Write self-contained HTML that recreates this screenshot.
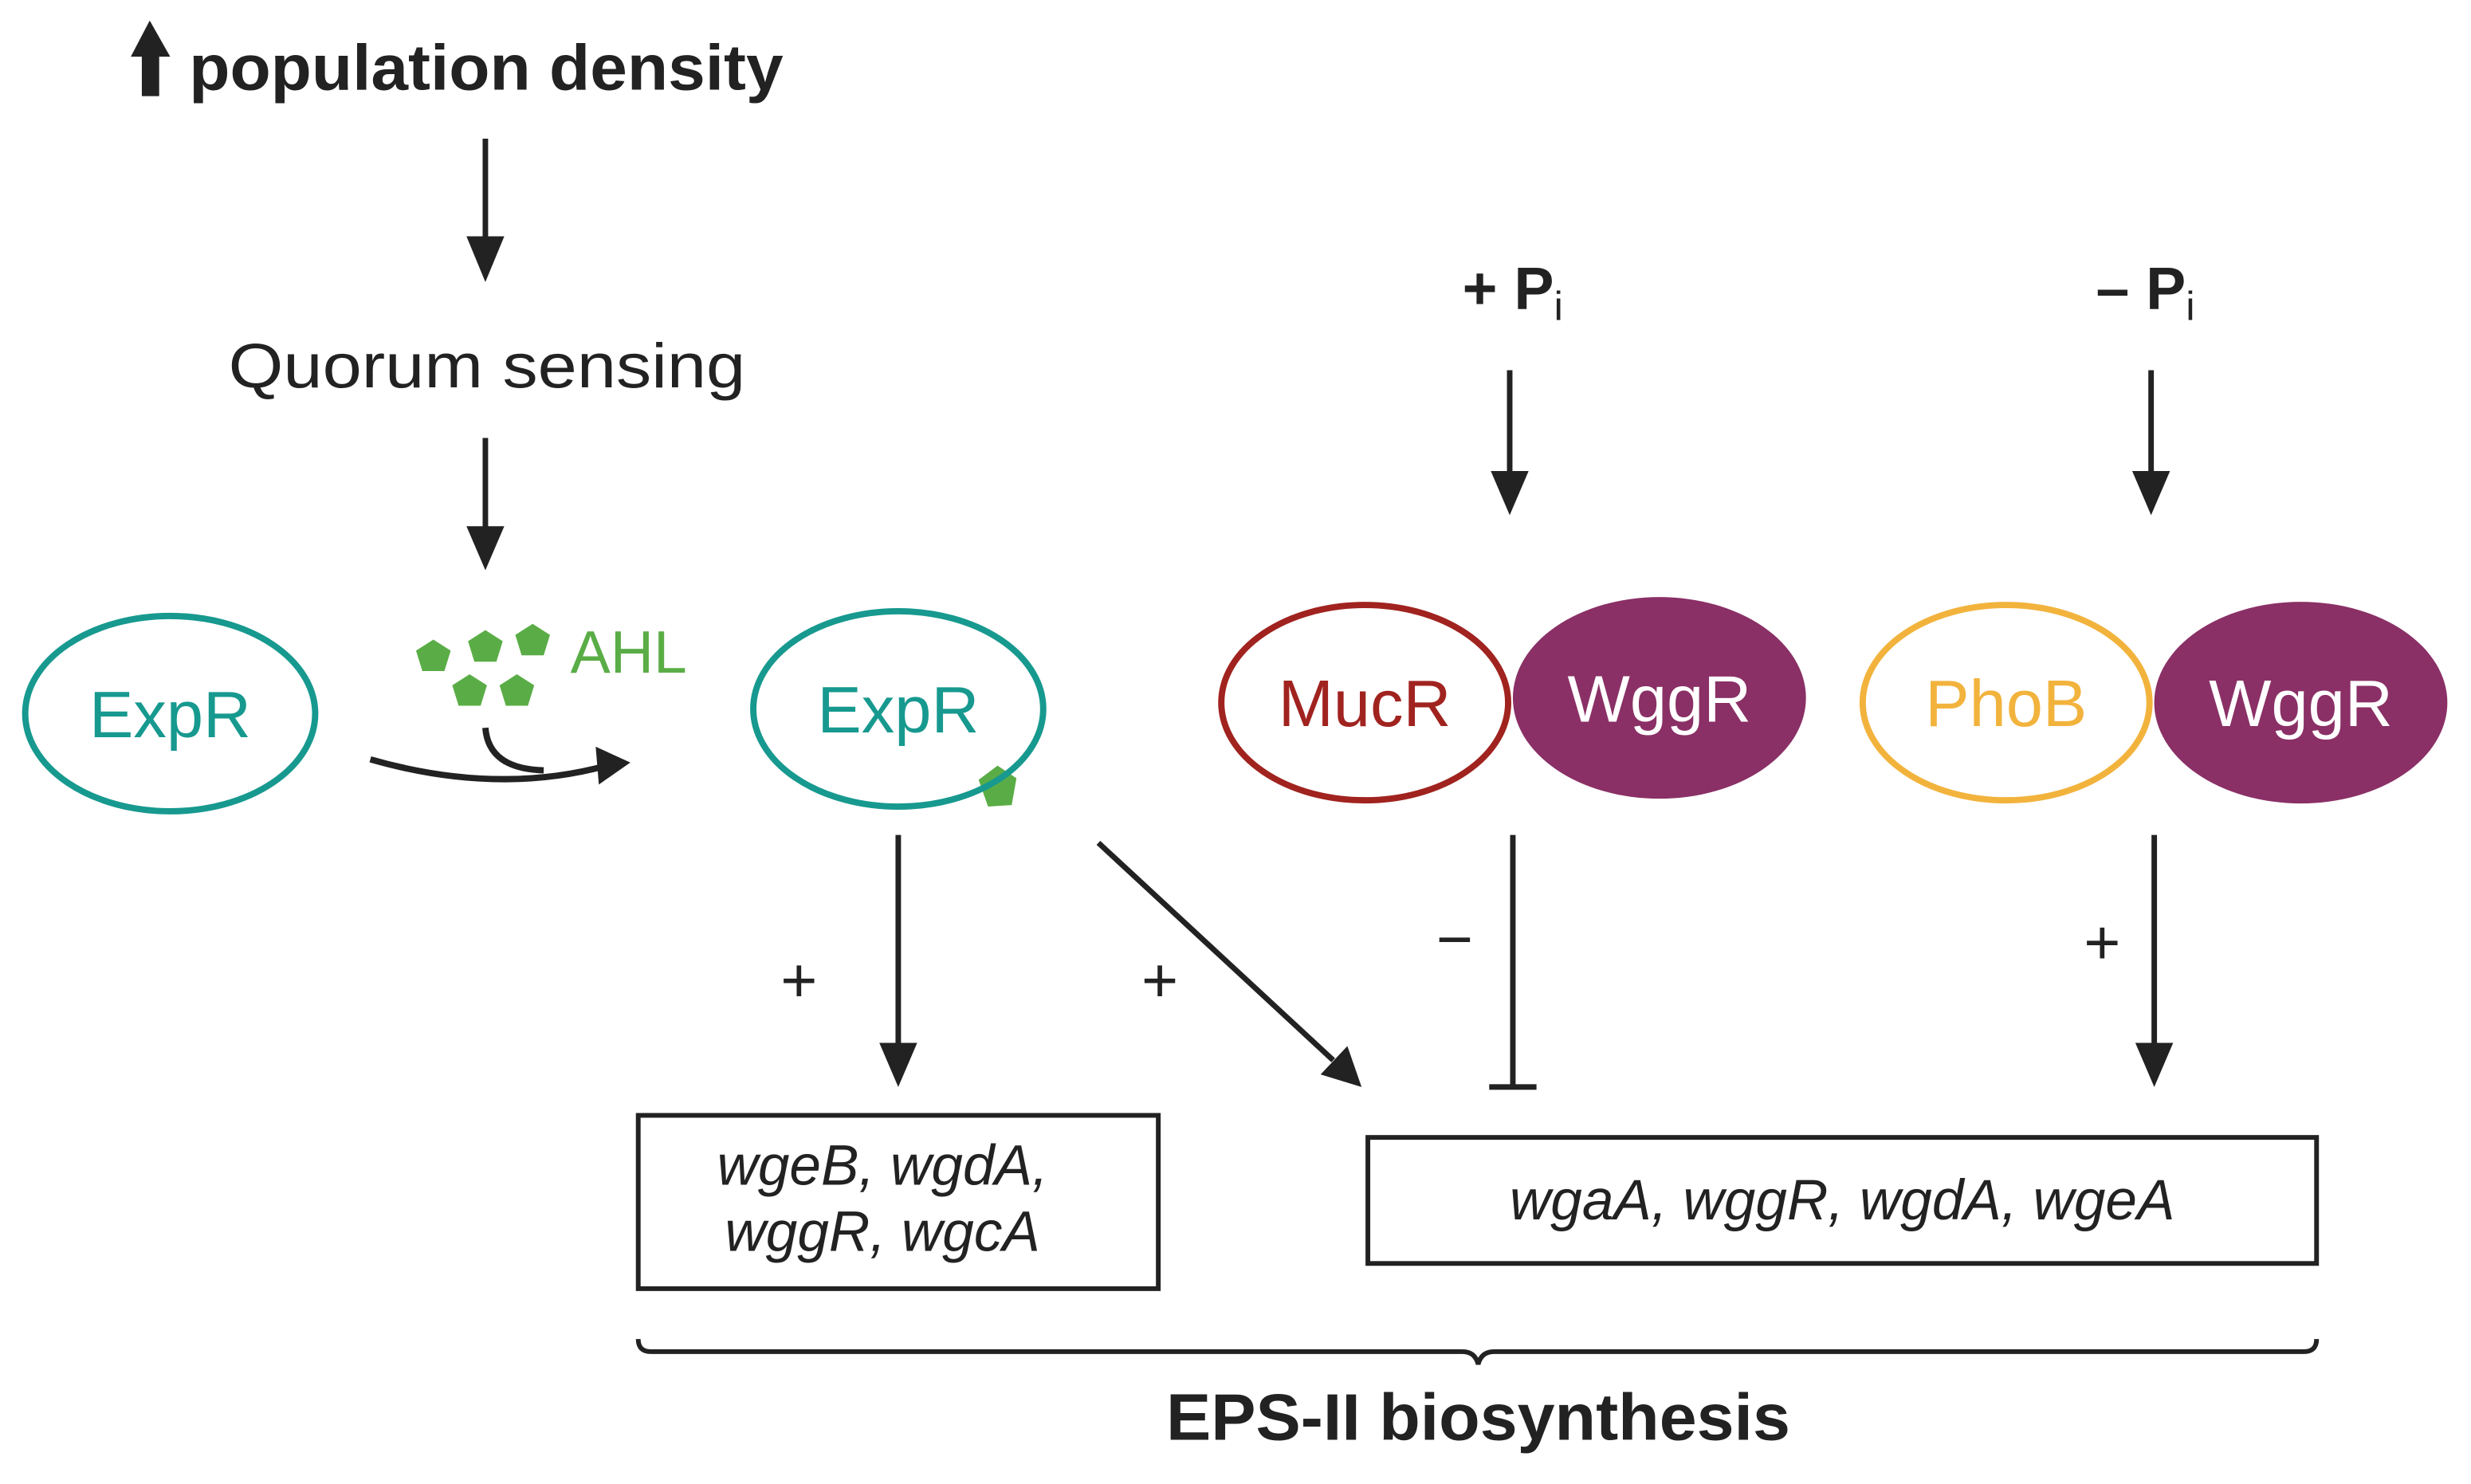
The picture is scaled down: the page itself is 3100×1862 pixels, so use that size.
<!DOCTYPE html>
<html><head><meta charset="utf-8"><style>
html,body{margin:0;padding:0;background:#fff;}
svg{display:block;}
text{font-family:"Liberation Sans",sans-serif;}
</style></head><body>
<svg width="3100" height="1862" viewBox="0 0 1568 942" preserveAspectRatio="none" xmlns="http://www.w3.org/2000/svg">
<g fill="#222" stroke="#222">
<polygon points="95,13 83,36 90,36 90,61 101,61 101,36 108,36" stroke="none"/>
</g>
<text x="120" y="57" font-size="41" font-weight="bold" fill="#222" textLength="377" lengthAdjust="spacingAndGlyphs">population density</text>
<g stroke="#222" stroke-width="3.5" fill="none">
<line x1="308" y1="88" x2="308" y2="155"/>
<line x1="308" y1="278" x2="308" y2="338"/>
<line x1="958" y1="235" x2="958" y2="303"/>
<line x1="1365" y1="235" x2="1365" y2="303"/>
<line x1="570" y1="530" x2="570" y2="666"/>
<line x1="1367" y1="530" x2="1367" y2="666"/>
<line x1="697" y1="535" x2="846" y2="673"/>
<line x1="960" y1="530" x2="960" y2="690"/>
<line x1="945" y1="690" x2="975" y2="690"/>
<path d="M235,482 Q315,505 385,486" stroke-width="4"/>
<path d="M308,462 Q310,488 345,489" stroke-width="4"/>
</g>
<g fill="#222">
<polygon points="296,150 320,150 308,179"/>
<polygon points="296,334 320,334 308,362"/>
<polygon points="946,299 970,299 958,327"/>
<polygon points="1353,299 1377,299 1365,327"/>
<polygon points="558,662 582,662 570,690"/>
<polygon points="1355,662 1379,662 1367,690"/>
<polygon points="838,682 855,664 864,690"/>
<polygon points="378,474 400,484 380,498"/>
</g>
<text x="309" y="246" font-size="40" fill="#222" text-anchor="middle" textLength="328" lengthAdjust="spacingAndGlyphs">Quorum sensing</text>
<ellipse cx="108" cy="453" rx="92" ry="62" fill="none" stroke="#17998f" stroke-width="4"/>
<text x="108" y="468" font-size="42" fill="#17998f" text-anchor="middle">ExpR</text>
<g fill="#5aad46">
<polygon points="275,406 286,413 282,426 268,426 264,413"/>
<polygon points="308,400 319,407 315,420 301,420 297,407"/>
<polygon points="338,396 349,403 345,416 331,416 327,403"/>
<polygon points="298,428 309,435 305,448 291,448 287,435"/>
<polygon points="328,428 339,435 335,448 321,448 317,435"/>
<polygon points="633,486 645,494 642,511 627,512 621,495"/>
</g>
<text x="362" y="427" font-size="38" fill="#5aad46">AHL</text>
<ellipse cx="570" cy="450" rx="92" ry="62" fill="none" stroke="#17998f" stroke-width="4"/>
<text x="570" y="465" font-size="42" fill="#17998f" text-anchor="middle">ExpR</text>
<ellipse cx="866" cy="446" rx="91" ry="62" fill="none" stroke="#a0231f" stroke-width="4"/>
<text x="866" y="461" font-size="42" fill="#a0231f" text-anchor="middle">MucR</text>
<ellipse cx="1053" cy="443" rx="93" ry="64" fill="#8a3066"/>
<text x="1053" y="458" font-size="42" fill="#fff" text-anchor="middle">WggR</text>
<ellipse cx="1273" cy="446" rx="91" ry="62" fill="none" stroke="#f2b33d" stroke-width="4"/>
<text x="1273" y="461" font-size="42" fill="#f2b33d" text-anchor="middle">PhoB</text>
<ellipse cx="1460" cy="446" rx="93" ry="64" fill="#8a3066"/>
<text x="1460" y="461" font-size="42" fill="#fff" text-anchor="middle">WggR</text>
<text x="928" y="196" font-size="38" font-weight="bold" fill="#222">+ P<tspan font-size="26" dy="7" font-weight="normal">i</tspan></text>
<text x="1330" y="196" font-size="38" font-weight="bold" fill="#222">– P<tspan font-size="26" dy="7" font-weight="normal">i</tspan></text>
<g font-size="40" fill="#222" text-anchor="middle">
<text x="507" y="636">+</text>
<text x="736" y="636">+</text>
<text x="923" y="610">−</text>
<text x="1334" y="612">+</text>
</g>
<rect x="405" y="708" width="330" height="110" fill="none" stroke="#222" stroke-width="3"/>
<text x="560" y="752" font-size="36" font-style="italic" fill="#222" text-anchor="middle">wgeB, wgdA,</text>
<text x="560" y="794" font-size="36" font-style="italic" fill="#222" text-anchor="middle">wggR, wgcA</text>
<rect x="868" y="722" width="602" height="80" fill="none" stroke="#222" stroke-width="3"/>
<text x="1169" y="774" font-size="36" font-style="italic" fill="#222" text-anchor="middle">wgaA, wggR, wgdA, wgeA</text>
<path d="M405,850 Q405,858 413,858 L928,858 Q936,858 938,866 Q940,858 948,858 L1462,858 Q1470,858 1470,850" fill="none" stroke="#222" stroke-width="3"/>
<text x="938" y="914" font-size="42" font-weight="bold" fill="#222" text-anchor="middle" textLength="396" lengthAdjust="spacingAndGlyphs">EPS-II biosynthesis</text>
</svg>
</body></html>
